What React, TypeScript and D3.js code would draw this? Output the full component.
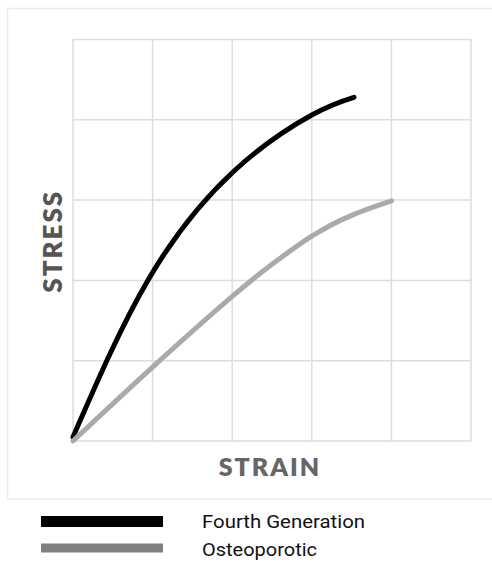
import React from "react";
import * as d3 from "d3";

const gridTicks = [0, 1, 2, 3, 4, 5];
const fourthX = [0, 0.94, 2.01, 3.0, 3.53];
const fourthY = [0.05, 2.0, 3.35, 4.06, 4.28];
const osteoX = [0, 1, 2, 2.5, 3, 3.5, 4];
const osteoY = [0, 0.92, 1.8, 2.2, 2.55, 2.81, 2.99];
const seriesNames = ["Fourth Generation", "Osteoporotic"];
const seriesColors = ["#000000", "#aaaaaa"];
const legendColors = ["#000000", "#808080"];
const xTitle = "STRAIN";
const yTitle = "STRESS";

export default function App() {
  const W = 492, H = 564;
  const x = d3.scaleLinear().domain([0, 5]).range([73, 471]);
  const y = d3.scaleLinear().domain([0, 5]).range([441, 39.5]);
  const line = d3
    .line<[number, number]>()
    .x((d) => x(d[0]))
    .y((d) => y(d[1]))
    .curve(d3.curveNatural);
  const series = [
    fourthX.map((v, i) => [v, fourthY[i]] as [number, number]),
    osteoX.map((v, i) => [v, osteoY[i]] as [number, number]),
  ];
  const legendW = [163, 115];
  return (
    <svg
      width={W}
      height={H}
      style={{ position: "absolute", left: 0, top: 0, background: "#fff" }}
    >
      <rect x={7.5} y={8.5} width={490} height={490.5} fill="#fff" stroke="#ececec" strokeWidth={1.5} />
      {gridTicks.map((t) => (
        <line key={"v" + t} x1={x(t)} x2={x(t)} y1={y(0)} y2={y(5)} stroke="#dddddd" strokeWidth={1.5} />
      ))}
      {gridTicks.map((t) => (
        <line key={"h" + t} x1={x(0)} x2={x(5)} y1={y(t)} y2={y(t)} stroke="#dddddd" strokeWidth={1.5} />
      ))}
      {series.map((s, i) => (
        <path
          key={i}
          d={line(s) || ""}
          fill="none"
          stroke={seriesColors[i]}
          strokeWidth={5}
          strokeLinecap="round"
        />
      ))}
      <text
        x={(x(0) + x(5)) / 2 - 2}
        y={476}
        textAnchor="middle"
        fontFamily="Lato, 'Open Sans', sans-serif"
        fontWeight={800}
        fontSize={25}
        fill="#666"
        letterSpacing={2}
      >
        {xTitle}
      </text>
      <text
        transform={`translate(62,${(y(0) + y(5)) / 2 + 1}) rotate(-90)`}
        textAnchor="middle"
        fontFamily="Lato, 'Open Sans', sans-serif"
        fontWeight={800}
        fontSize={26}
        fill="#555"
        letterSpacing={2}
      >
        {yTitle}
      </text>
      {seriesNames.map((n, i) => (
        <g key={n}>
          <rect x={41} y={516 + i * 27.5} width={122} height={i === 0 ? 11 : 9} fill={legendColors[i]} />
          <text
            x={202}
            y={528 + i * 28}
            fontFamily="Roboto, 'Open Sans', sans-serif"
            fontSize={19}
            fill="#111"
            textLength={legendW[i]}
            lengthAdjust="spacingAndGlyphs"
          >
            {n}
          </text>
        </g>
      ))}
    </svg>
  );
}
